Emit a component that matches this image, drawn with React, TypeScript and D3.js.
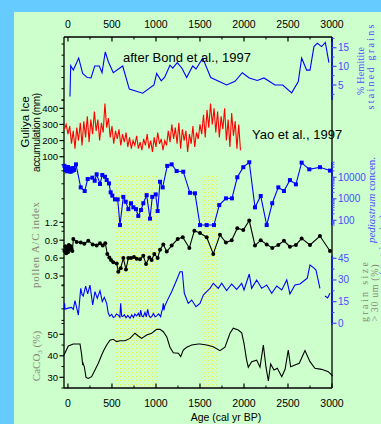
import * as d3 from "d3";

// x axis (age, cal yr BP)
const ageTicks = [0, 500, 1000, 1500, 2000, 2500, 3000];
const ageMinor = [250, 750, 1250, 1750, 2250, 2750];
const shadedAges: [number, number][] = [[540, 1020], [1520, 1690]];

// % hematite stained grains (after Bond et al., 1997)
const hematite: [number, number][] = [
  [23, 1.9], [31, 10.2], [61, 9], [122, 12.2], [167, 8.1], [220, 7], [262, 6.9],
  [304, 10.1], [356, 10.1], [387, 8.3], [424, 13.9], [458, 11.3], [515, 8.3],
  [622, 10.1], [697, 3.9], [849, 2.8], [977, 5], [1008, 8.1], [1060, 6.1],
  [1099, 7.1], [1159, 10.3], [1190, 9.5], [1242, 11], [1295, 9.5], [1349, 7],
  [1417, 10.1], [1455, 9.3], [1531, 12.2], [1622, 7], [1803, 5], [1898, 6],
  [1981, 8.3], [2060, 6.9], [2151, 6.2], [2227, 6.9], [2352, 5], [2440, 5],
  [2542, 2.9], [2617, 5.9], [2655, 12.2], [2712, 9], [2750, 9], [2795, 15.3],
  [2833, 16.2], [2882, 15.3], [2924, 16.4], [2965, 11],
];

// Guliya ice accumulation, mm (Yao et al., 1997)
const guliya: [number, number][] = [
  [-40, 270], [-20, 300], [0, 240], [20, 290], [40, 180], [60, 260], [80, 150],
  [100, 280], [120, 200], [140, 310], [160, 170], [180, 320], [200, 220], [220, 350],
  [240, 190], [260, 330], [280, 240], [300, 380], [320, 260], [340, 330], [360, 200],
  [380, 310], [400, 250], [420, 430], [440, 280], [460, 340], [480, 220], [500, 290],
  [520, 180], [540, 260], [560, 210], [580, 270], [600, 170], [620, 240], [640, 190],
  [660, 250], [680, 160], [700, 220], [720, 150], [740, 200], [760, 170], [780, 230],
  [800, 150], [820, 190], [840, 140], [860, 210], [880, 170], [900, 240], [920, 150],
  [940, 200], [960, 130], [980, 220], [1000, 160], [1020, 250], [1040, 180], [1060, 210],
  [1080, 140], [1100, 200], [1120, 170], [1140, 260], [1160, 190], [1180, 300], [1200, 210],
  [1220, 280], [1240, 180], [1260, 310], [1280, 150], [1300, 270], [1320, 200], [1340, 260],
  [1360, 130], [1380, 240], [1400, 180], [1420, 290], [1440, 160], [1460, 250], [1480, 210],
  [1500, 300], [1520, 240], [1540, 360], [1560, 220], [1580, 390], [1600, 280], [1620, 430],
  [1640, 300], [1660, 400], [1680, 250], [1700, 380], [1720, 220], [1740, 350], [1760, 270],
  [1780, 400], [1800, 200], [1820, 330], [1840, 160], [1860, 370], [1880, 230], [1900, 320],
  [1920, 150], [1940, 300], [1960, 140],
];

// pediastrum concentration, grains/g
const pediastrum: [number, number][] = [
  [-40, 34000], [-30, 22000], [-20, 28000], [-10, 19000], [0, 30000], [10, 21000],
  [20, 26000], [30, 18000], [40, 24000], [50, 20000], [60, 27000], [70, 22000],
  [91, 40000], [145, 3400], [190, 2300], [224, 8300], [277, 9600], [304, 6900],
  [326, 13800], [364, 4900], [390, 12800], [421, 10600], [440, 7500], [466, 5200],
  [485, 2000], [504, 1400], [534, 940], [565, 940], [591, 60], [629, 1230],
  [656, 730], [686, 330], [716, 620], [743, 400], [773, 330], [799, 160],
  [830, 300], [856, 620], [894, 1480], [932, 120], [958, 1230], [997, 1600],
  [1019, 270], [1046, 6200], [1076, 3400], [1128, 34000], [1178, 40000],
  [1235, 19500], [1310, 18200], [1386, 1900], [1443, 1800], [1500, 60],
  [1576, 60], [1659, 60], [1719, 510], [1795, 1050], [1863, 1050], [1924, 10000],
  [1992, 29500], [2060, 50000], [2125, 400], [2190, 1350], [2258, 60], [2321, 620],
  [2390, 3400], [2454, 2300], [2522, 7400], [2590, 4700], [2655, 48000],
  [2742, 23500], [2863, 29500], [2977, 20500],
];

// pollen A/C index
const pollen: [number, number][] = [
  [-40, 0.72], [-30, 0.8], [-20, 0.68], [-10, 0.78], [0, 0.7], [10, 0.82], [20, 0.74],
  [30, 0.8], [40, 0.76], [50, 0.72], [61, 0.92], [99, 0.87], [145, 0.86], [186, 0.84],
  [231, 0.89], [281, 0.83], [326, 0.81], [364, 0.85], [395, 0.81], [424, 0.85],
  [447, 0.67], [470, 0.61], [489, 0.57], [515, 0.53], [554, 0.51], [572, 0.37],
  [599, 0.43], [629, 0.6], [659, 0.41], [686, 0.6], [716, 0.6], [750, 0.62],
  [781, 0.59], [818, 0.58], [856, 0.64], [887, 0.5], [924, 0.61], [951, 0.57],
  [981, 0.67], [1019, 0.6], [1046, 0.74], [1083, 0.83], [1122, 0.71], [1178, 0.81],
  [1247, 0.92], [1304, 0.95], [1379, 0.77], [1436, 1.06], [1500, 1.02], [1576, 0.95],
  [1651, 0.67], [1727, 0.99], [1795, 0.86], [1860, 0.9], [1924, 1.1], [1992, 1.07],
  [2060, 1.23], [2125, 0.81], [2190, 0.9], [2258, 0.83], [2321, 0.77], [2390, 0.82],
  [2454, 0.89], [2522, 0.79], [2590, 0.82], [2655, 0.93], [2750, 0.82], [2863, 0.97],
  [2977, 0.72],
];

// grain size > 30 um, % (null = gap)
const grain: [number, number | null][] = [
  [-40, 9.7], [-38, 13.8], [-34, 9.7], [0, 10.5], [40, 11], [61, 9.7], [80, 15.7],
  [118, 5.7], [145, 24.2], [160, 20], [174, 18.9], [201, 25.8], [224, 20.3], [250, 26.5],
  [281, 12.7], [307, 21.9], [333, 17.3], [364, 22.6], [390, 15], [413, 18], [440, 13.8],
  [458, 6.9], [475, 5], [497, 6.2], [515, 4], [534, 4.6], [550, 6.5], [572, 5.7],
  [590, 4.2], [599, 13.8], [610, 5], [622, 4.6], [640, 6], [660, 3.8], [680, 5.5],
  [705, 3.5], [725, 5.8], [745, 4], [760, 6.4], [781, 5.1], [800, 7], [815, 4.5],
  [826, 9.2], [840, 5], [856, 4.6], [875, 7.5], [890, 4.4], [906, 9.7], [920, 5.5],
  [935, 4], [951, 4.6], [970, 6.8], [990, 4.5], [1008, 5.1], [1030, 6.5], [1053, 4.6],
  [1065, 8], [1075, 10], [1083, 13.8], [1090, 9], [1100, 12], [1128, 15.7], [1178, 21.9],
  [1235, 30], [1273, 35.7], [1299, 35.7], [1322, 20.8], [1367, 13.8], [1406, 16.1],
  [1455, 11.5], [1500, 13.8], [1538, 19.6], [1576, 21.9], [1614, 24.2], [1651, 27.7],
  [1708, 24.2], [1746, 27.7], [1803, 22.6], [1860, 27.2], [1917, 23.5], [1974, 27.7],
  [2000, 23.1], [2060, 34.1], [2087, 24.2], [2144, 30], [2201, 24.2], [2258, 26.5],
  [2315, 20.8], [2372, 25.8], [2429, 23.1], [2486, 30], [2522, 20.3], [2579, 26.5],
  [2636, 27.2], [2693, 30], [2719, 31.2], [2750, 40.4], [2790, 38.5], [2818, 36.9],
  [2863, 24.2], [2890, null], [2920, 18.9], [2950, 17.5], [2977, 20.8],
];

// CaCO3, %
const caco3: [number, number][] = [
  [-45, 40.4], [4, 44.6], [61, 45.5], [137, 45.5], [156, 40.4], [167, 35.7], [172, 36.5],
  [186, 34.9], [205, 30], [231, 29.5], [269, 30.3], [307, 33.4], [345, 36.5], [383, 40.4],
  [409, 42.7], [440, 45], [477, 47.3], [515, 47.7], [554, 46.6], [591, 47], [648, 47],
  [705, 48.1], [761, 50.5], [799, 49.2], [837, 48.1], [894, 49.7], [951, 50.5],
  [1008, 52.3], [1046, 52.3], [1083, 51.2], [1122, 48.9], [1159, 44], [1197, 41.4],
  [1254, 41.2], [1281, 39.6], [1310, 42.7], [1349, 44], [1406, 45], [1481, 45.5],
  [1500, 45.5], [1576, 45], [1651, 44.2], [1727, 42.4], [1784, 44], [1841, 50.5],
  [1878, 52.8], [1935, 52], [1974, 50.7], [2000, 45.8], [2030, 38], [2049, 34.7],
  [2087, 37.3], [2144, 38], [2182, 34.7], [2220, 45], [2250, 34.7], [2277, 28.3],
  [2303, 36.2], [2341, 33.4], [2379, 34.2], [2429, 30.3], [2467, 33.7], [2503, 42.7],
  [2530, 34.9], [2579, 35.7], [2628, 36.5], [2693, 42.4], [2750, 37.3], [2806, 34.2],
  [2882, 33.7], [2958, 32.6], [3007, 30.6],
];

// axis tick values
const hemTicks = [5, 10, 15];
const hemMinor = [2.5, 7.5, 12.5, 17.5];
const hemLeftTicks = [1, 4, 7, 10, 13, 16];
const gulTicks = [100, 200, 300, 400];
const gulMinor = [50, 150, 250, 350, 450];
const pedTicks = [100, 1000, 10000];
const pedMinor = [60, 70, 80, 90, 200, 300, 400, 500, 600, 700, 800, 900, 2000, 3000, 4000, 5000, 6000, 7000, 8000, 9000, 20000, 30000, 40000, 50000];
const pedLeftTicks = [50, 200, 1000, 5000, 20000];
const polTicks = [0.3, 0.6, 0.9, 1.2];
const polMinor = [0.15, 0.45, 0.75, 1.05, 1.35];
const grainTicks = [0, 15, 30, 45];
const grainMinor = [7.5, 22.5, 37.5];
const grainLeftTicks = [2, 10, 18, 26];
const caTicks = [30, 40, 50];
const caMinor = [25, 35, 45, 55];

const L = 64, R = 332, T = 37, B = 388;
const SANS = "Liberation Sans, Arial, sans-serif";
const SERIF = "Liberation Serif, Times New Roman, serif";
const BLUE = "#0000ff";
const LBLUE = "#4a4aff";
const GRAY = "#868675";

const x = d3.scaleLinear().domain([-45, 3000]).range([L, R]);
const yHem = d3.scaleLinear().domain([5, 15]).range([85, 47.7]);
const yGul = d3.scaleLinear().domain([100, 400]).range([156.7, 108.3]);
const yPed = d3.scaleLog().domain([100, 10000]).range([220.3, 177.3]);
const yPol = d3.scaleLinear().domain([0.3, 1.2]).range([276, 222.3]);
const yGrain = d3.scaleLinear().domain([0, 45]).range([323.3, 258.3]);
const yCa = d3.scaleLinear().domain([30, 50]).range([377.3, 334.3]);

type Scale = (v: number) => number;

function VTicks({ scale, major = [], minor = [], labels = true, side, color = "#000", fmt = (v: number) => String(v) }: {
  scale: Scale; major?: number[]; minor?: number[]; labels?: boolean; side: "left" | "right"; color?: string; fmt?: (v: number) => string;
}) {
  const ax = side === "left" ? L : R;
  const dir = side === "left" ? -1 : 1;
  return (
    <g>
      {minor.map((v) => (
        <line key={"m" + v} x1={ax} x2={ax + dir * 2.5} y1={scale(v)} y2={scale(v)} stroke={color} strokeWidth={1} />
      ))}
      {major.map((v) => (
        <g key={"M" + v}>
          <line x1={ax} x2={ax + dir * 4.5} y1={scale(v)} y2={scale(v)} stroke={color} strokeWidth={1.2} />
          {labels && (
            <text x={ax + dir * 6} y={scale(v)} dy="0.35em" textAnchor={side === "left" ? "end" : "start"}
              fontSize={side === "left" ? 9.5 : 10} fill={color} fontFamily={SANS}>{fmt(v)}</text>
          )}
        </g>
      ))}
    </g>
  );
}

function RotLabel({ cx, cy, len, size, color, family, children }: any) {
  return (
    <text transform={`translate(${cx},${cy}) rotate(-90)`} textAnchor="middle" fontSize={size} fill={color}
      fontFamily={family} textLength={len} lengthAdjust={len ? "spacing" : undefined}>
      {children}
    </text>
  );
}

export default function App() {
  const lineHem = d3.line<[number, number]>().x((d) => x(d[0])).y((d) => yHem(d[1]));
  const lineGul = d3.line<[number, number]>().x((d) => x(d[0])).y((d) => yGul(d[1]));
  const linePed = d3.line<[number, number]>().x((d) => x(d[0])).y((d) => yPed(d[1]));
  const linePol = d3.line<[number, number]>().x((d) => x(d[0])).y((d) => yPol(d[1]));
  const lineGrain = d3.line<[number, number | null]>().defined((d) => d[1] != null).x((d) => x(d[0])).y((d) => yGrain(d[1] as number));
  const lineCa = d3.line<[number, number]>().x((d) => x(d[0])).y((d) => yCa(d[1]));

  return (
    <svg width={381} height={424} style={{ position: "absolute", left: 0, top: 0, display: "block" }}>
      <defs>
        <pattern id="dots" width={4} height={4} patternUnits="userSpaceOnUse">
          <rect x={0} y={0} width={1} height={1} fill="#eeee3c" />
          <rect x={2} y={2} width={1} height={1} fill="#e6f4a0" />
        </pattern>
      </defs>
      <rect x={0} y={0} width={381} height={424} fill="#66ccff" />
      <rect x={14} y={12} width={367} height={412} fill="#ccffcc" />

      {shadedAges.map(([a, b]) => (
        <rect key={a} x={Math.round(x(a))} y={175} width={Math.round(x(b) - x(a))} height={B - 175} fill="url(#dots)" />
      ))}

      {/* frame */}
      <line x1={L} x2={R} y1={T} y2={T} stroke="#000" strokeWidth={1.3} />
      <line x1={L} x2={R} y1={B} y2={B} stroke="#000" strokeWidth={1.3} />
      <line x1={L} x2={L} y1={T} y2={B} stroke="#000" strokeWidth={1.3} />
      <line x1={R} x2={R} y1={T} y2={B} stroke="#000" strokeWidth={1.3} />
      <line x1={R} x2={R} y1={T} y2={yHem(1)} stroke={BLUE} strokeWidth={1.3} />
      <line x1={R} x2={R} y1={yPed(50000)} y2={yPed(60)} stroke={BLUE} strokeWidth={1.3} />
      <line x1={R} x2={R} y1={yGrain(47)} y2={yGrain(-1)} stroke={BLUE} strokeWidth={1.3} />

      {/* top & bottom age axes */}
      {ageTicks.map((v) => (
        <g key={v}>
          <line x1={x(v)} x2={x(v)} y1={T} y2={T + 4.5} stroke="#000" strokeWidth={1.2} />
          <line x1={x(v)} x2={x(v)} y1={B} y2={B - 4.5} stroke="#000" strokeWidth={1.2} />
          <text x={x(v)} y={28} textAnchor="middle" fontSize={10.5} fontFamily={SANS}>{v}</text>
          <text x={x(v)} y={407} textAnchor="middle" fontSize={10.5} fontFamily={SANS}>{v}</text>
        </g>
      ))}
      {ageMinor.map((v) => (
        <g key={v}>
          <line x1={x(v)} x2={x(v)} y1={T} y2={T + 2.5} stroke="#000" />
          <line x1={x(v)} x2={x(v)} y1={B} y2={B - 2.5} stroke="#000" />
        </g>
      ))}
      <text x={226} y={421} textAnchor="middle" fontSize={10.5} fontFamily={SANS}>Age (cal yr BP)</text>

      {/* left axis ticks */}
      <VTicks scale={yHem} minor={hemLeftTicks} side="left" labels={false} />
      <VTicks scale={yGul} major={gulTicks} minor={gulMinor} side="left" />
      <VTicks scale={yPed} minor={pedLeftTicks} side="left" labels={false} />
      <VTicks scale={yPol} major={polTicks} minor={polMinor} side="left" fmt={(v) => v.toFixed(1)} />
      <VTicks scale={yGrain} minor={grainLeftTicks} side="left" labels={false} />
      <VTicks scale={yCa} major={caTicks} minor={caMinor} side="left" />

      {/* right axis ticks */}
      <VTicks scale={yHem} major={hemTicks} minor={hemMinor} side="right" color={LBLUE} />
      <VTicks scale={yPed} major={pedTicks} minor={pedMinor} side="right" color={LBLUE} />
      <VTicks scale={yGrain} major={grainTicks} minor={grainMinor} side="right" color={LBLUE} />

      {/* series */}
      <path d={lineHem(hematite) ?? ""} fill="none" stroke={BLUE} strokeWidth={1.1} />
      <path d={lineGul(guliya) ?? ""} fill="none" stroke="#ff0000" strokeWidth={1.1} />
      <path d={linePed(pediastrum) ?? ""} fill="none" stroke={BLUE} strokeWidth={1.1} />
      {pediastrum.map((d, i) => (
        <rect key={i} x={x(d[0]) - 2} y={yPed(d[1]) - 2} width={4} height={4} fill={BLUE} />
      ))}
      <path d={linePol(pollen) ?? ""} fill="none" stroke="#000" strokeWidth={1.1} />
      {pollen.map((d, i) => (
        <circle key={i} cx={x(d[0])} cy={yPol(d[1])} r={2} fill="#000" />
      ))}
      <path d={lineGrain(grain) ?? ""} fill="none" stroke={BLUE} strokeWidth={1.1} />
      <path d={lineCa(caco3) ?? ""} fill="none" stroke="#000" strokeWidth={1.1} />

      {/* annotations */}
      <text x={123} y={62} fontSize={13} fontFamily={SANS}>after Bond et al., 1997</text>
      <text x={252} y={139} fontSize={13} fontFamily={SANS}>Yao et al., 1997</text>

      {/* left axis titles */}
      <RotLabel cx={28.5} cy={122} size={11.5} color="#000" family={SANS}>Guliya Ice</RotLabel>
      <RotLabel cx={40} cy={132.5} len={79} size={10} color="#000" family={SANS}>accumulation (mm)</RotLabel>
      <RotLabel cx={39} cy={245} len={86} size={11} color={GRAY} family={SERIF}>pollen A/C index</RotLabel>
      <text transform="translate(40,356) rotate(-90)" textAnchor="middle" fontSize={11} fill={GRAY} fontFamily={SERIF}>
        CaCO<tspan fontSize={7} dy={2}>3</tspan><tspan dy={-2}> (%)</tspan>
      </text>

      {/* right axis titles */}
      <RotLabel cx={364} cy={71} len={48} size={10} color={LBLUE} family={SERIF}>% Hemitite</RotLabel>
      <RotLabel cx={374} cy={67} len={85} size={10} color={LBLUE} family={SERIF}>stained grains</RotLabel>
      <text transform="translate(375,200) rotate(-90)" textAnchor="middle" fontSize={11} fill={LBLUE} fontFamily={SERIF}>
        <tspan fontStyle="italic">pediastrum</tspan> concen.
      </text>
      <RotLabel cx={386} cy={245} len={60} size={10} color={LBLUE} family={SERIF}>(grains/g)</RotLabel>
      <RotLabel cx={368} cy={292} len={60} size={10} color={GRAY} family={SERIF}>grain size</RotLabel>
      <RotLabel cx={378} cy={293} len={57} size={10} color={GRAY} family={SERIF}>&gt; 30 um (%)</RotLabel>
    </svg>
  );
}
